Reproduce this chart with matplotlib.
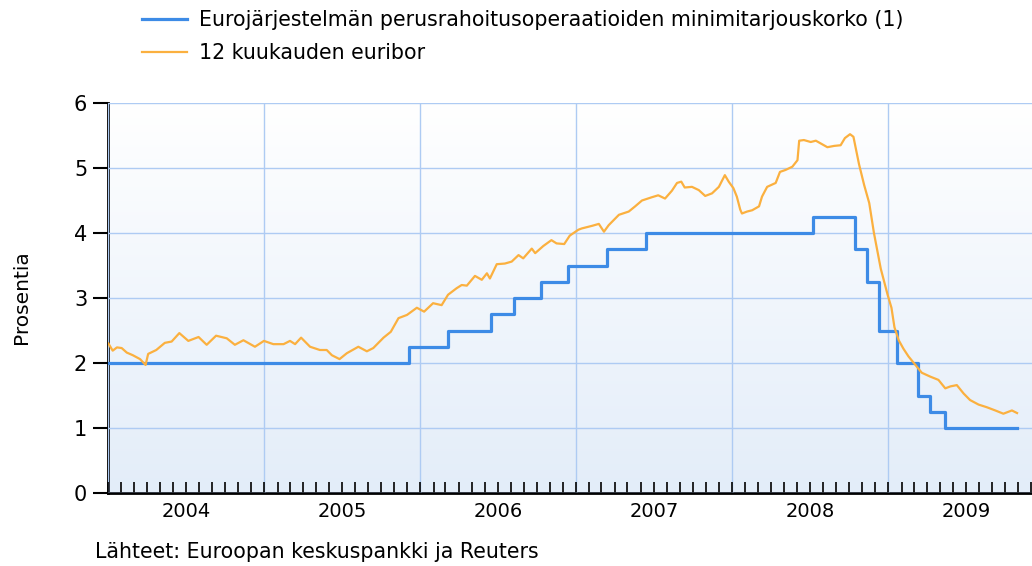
import numpy as np
import pandas as pd
import matplotlib
matplotlib.use("Agg")
import matplotlib.pyplot as plt
import matplotlib.dates as mdates

# ECB main refinancing rate (minimum bid), step changes
ecb_dates = ["2004-01-01", "2005-12-06", "2006-03-08", "2006-06-15", "2006-08-09",
             "2006-10-11", "2006-12-13", "2007-03-14", "2007-06-13", "2008-07-09",
             "2008-10-15", "2008-11-12", "2008-12-10", "2009-01-21", "2009-03-11",
             "2009-04-08", "2009-05-13", "2009-10-30"]
ecb_rate = [2.00, 2.25, 2.50, 2.75, 3.00, 3.25, 3.50, 3.75, 4.00, 4.25,
            3.75, 3.25, 2.50, 2.00, 1.50, 1.25, 1.00, 1.00]

# 12 month euribor
eur_dates = [
    "2004-01-02", "2004-01-12", "2004-01-22", "2004-02-02", "2004-02-14", "2004-02-28",
    "2004-03-16", "2004-03-29", "2004-04-04", "2004-04-23", "2004-05-13", "2004-05-29",
    "2004-06-16", "2004-07-07", "2004-07-31", "2004-08-19", "2004-09-10", "2004-10-05",
    "2004-10-24", "2004-11-13", "2004-12-10", "2004-12-31",
    "2005-01-22", "2005-02-15", "2005-03-02", "2005-03-14", "2005-03-28", "2005-04-18",
    "2005-05-11", "2005-05-27", "2005-06-08", "2005-06-26", "2005-07-13", "2005-08-09",
    "2005-08-29", "2005-09-13", "2005-10-07", "2005-10-24", "2005-11-11", "2005-12-01",
    "2005-12-24",
    "2006-01-10", "2006-01-31", "2006-02-20", "2006-03-07", "2006-03-27", "2006-04-08",
    "2006-04-20", "2006-05-09", "2006-05-25", "2006-06-06", "2006-06-13", "2006-06-29",
    "2006-07-18", "2006-08-03", "2006-08-19", "2006-08-30", "2006-09-19", "2006-09-27",
    "2006-10-16", "2006-11-04", "2006-11-16", "2006-12-04", "2006-12-17",
    "2007-01-06", "2007-01-14", "2007-02-07", "2007-02-23", "2007-03-07", "2007-03-18",
    "2007-04-11", "2007-05-04", "2007-05-19", "2007-06-04", "2007-06-27", "2007-07-12",
    "2007-07-28", "2007-08-13", "2007-08-25", "2007-09-04", "2007-09-12", "2007-09-29",
    "2007-10-15", "2007-10-30", "2007-11-15", "2007-12-01", "2007-12-15", "2007-12-24",
    "2008-01-04", "2008-01-12", "2008-01-20", "2008-01-24", "2008-02-05", "2008-02-17",
    "2008-03-04", "2008-03-11", "2008-03-23", "2008-04-12", "2008-04-22", "2008-05-05",
    "2008-05-21", "2008-06-02", "2008-06-06", "2008-06-17", "2008-07-03", "2008-07-15",
    "2008-07-26", "2008-08-11", "2008-08-27", "2008-09-11", "2008-09-21", "2008-10-03",
    "2008-10-11", "2008-10-24", "2008-11-05", "2008-11-17", "2008-11-28", "2008-12-14",
    "2008-12-30",
    "2009-01-08", "2009-01-15", "2009-01-25", "2009-02-05", "2009-02-17", "2009-03-05",
    "2009-03-20", "2009-04-09", "2009-04-28", "2009-05-14", "2009-05-26", "2009-06-10",
    "2009-06-26", "2009-07-11", "2009-07-31", "2009-08-19", "2009-09-08", "2009-09-27",
    "2009-10-17", "2009-10-29",
]
eur_rate = [
    2.30, 2.19, 2.24, 2.23, 2.16, 2.12, 2.06, 1.97, 2.14, 2.20, 2.31, 2.33,
    2.46, 2.34, 2.40, 2.28, 2.42, 2.38, 2.28, 2.35, 2.25, 2.34,
    2.29, 2.29, 2.34, 2.29, 2.39, 2.25, 2.20, 2.20, 2.12, 2.06, 2.15, 2.25,
    2.18, 2.23, 2.39, 2.48, 2.69, 2.74, 2.85,
    2.79, 2.92, 2.89, 3.05, 3.15, 3.20, 3.19, 3.34, 3.28, 3.38, 3.30, 3.52,
    3.53, 3.56, 3.66, 3.61, 3.76, 3.69, 3.80, 3.89, 3.84, 3.83, 3.96,
    4.05, 4.07, 4.11, 4.14, 4.02, 4.12, 4.28, 4.33, 4.41, 4.50, 4.55, 4.58,
    4.53, 4.65, 4.77, 4.79, 4.70, 4.71, 4.66, 4.57, 4.61, 4.71, 4.89, 4.79,
    4.69, 4.56, 4.36, 4.30, 4.33, 4.35, 4.41, 4.56, 4.71, 4.77, 4.94, 4.97,
    5.02, 5.12, 5.42, 5.43, 5.40, 5.42, 5.38, 5.32, 5.34, 5.35, 5.46, 5.52,
    5.48, 5.06, 4.74, 4.46, 4.00, 3.45, 3.05,
    2.85, 2.55, 2.35, 2.22, 2.10, 1.97, 1.85, 1.79, 1.74, 1.61, 1.64, 1.66,
    1.53, 1.43, 1.36, 1.32, 1.27, 1.22, 1.27, 1.23,
]

years = [2004, 2005, 2006, 2007, 2008, 2009]

blue = "#3d8be6"
orange = "#fbb03f"
grid_col = "#aecbf3"

fig = plt.figure(figsize=(10.32, 5.66), dpi=100)
ax = fig.add_axes([108 / 1032, 1 - 493 / 566, 1 - 108 / 1032, 390 / 566])

# background gradient, white at the top to pale blue at the bottom
grad = np.linspace(0, 1, 256).reshape(-1, 1)
cmap = matplotlib.colors.LinearSegmentedColormap.from_list("bg", ["#ffffff", "#e3edf9"])
ax.imshow(grad, extent=[0, 1, 0, 1], transform=ax.transAxes, aspect="auto",
          cmap=cmap, zorder=0)

ln1, = ax.plot(pd.to_datetime(ecb_dates), ecb_rate, drawstyle="steps-post",
               color=blue, lw=2.3, zorder=3)
ln2, = ax.plot(pd.to_datetime(eur_dates), eur_rate, color=orange, lw=1.6, zorder=4)

ax.set_xlim(pd.Timestamp("2004-01-01"), pd.Timestamp("2009-12-03"))
ax.set_ylim(0, 6)
ax.set_yticks(range(0, 7))
ax.tick_params(axis="y", labelsize=15, length=11, width=1.5, direction="out", pad=4)

ax.xaxis.set_major_locator(mdates.YearLocator())
ax.xaxis.set_minor_locator(mdates.MonthLocator())
ax.xaxis.set_major_formatter(plt.NullFormatter())
ax.tick_params(axis="x", which="both", direction="in", length=8, width=1.2)

ax.grid(True, which="major", color=grid_col, lw=1.0, zorder=1)
ax.set_axisbelow(False)
for s in ["top", "right"]:
    ax.spines[s].set_visible(False)
for s in ["left", "bottom"]:
    ax.spines[s].set_linewidth(2)
    ax.spines[s].set_color("black")

# year labels centred under each year
for y in years:
    ax.text(pd.Timestamp(f"{y}-07-02"), -0.022, str(y), transform=ax.get_xaxis_transform(),
            ha="center", va="top", fontsize=14)

fig.text(22 / 1032, 1 - 297 / 566, "Prosentia", rotation=90, ha="center", va="center",
         fontsize=14.5)
fig.text(95 / 1032, 1 - 552 / 566, "Lähteet: Euroopan keskuspankki ja Reuters",
         ha="left", va="center", fontsize=14.8)

fig.legend([ln1, ln2],
           ["Eurojärjestelmän perusrahoitusoperaatioiden minimitarjouskorko (1)",
            "12 kuukauden euribor"],
           loc="upper left", bbox_to_anchor=(142 / 1032, 1 - 10 / 566),
           frameon=False, fontsize=14.8, handlelength=2.2, handletextpad=0.55,
           labelspacing=0.62, borderpad=0, borderaxespad=0)

fig.savefig("out.png", dpi=100)
